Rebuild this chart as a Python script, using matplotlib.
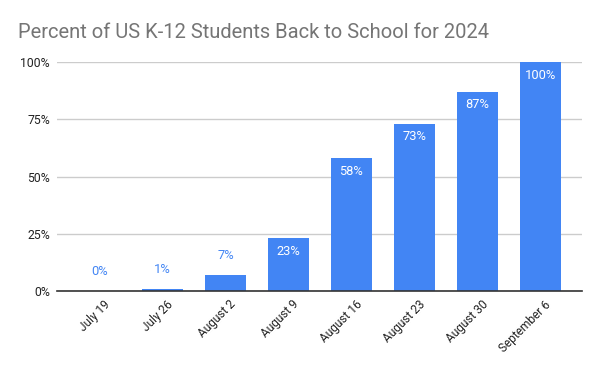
import matplotlib
matplotlib.use("Agg")
import matplotlib.pyplot as plt
import matplotlib.transforms as mtrans
from matplotlib.ticker import FuncFormatter

categories = ["July 19", "July 26", "August 2", "August 9", "August 16",
              "August 23", "August 30", "September 6"]
values = [0, 1, 7, 23, 58, 73, 87, 100]
labels = ["0%", "1%", "7%", "23%", "58%", "73%", "87%", "100%"]
yticks = [0, 25, 50, 75, 100]

plt.rcParams['font.family'] = ['Roboto', 'DejaVu Sans']

fig = plt.figure(figsize=(6, 3.71), dpi=100)
ax = fig.add_axes([57/600, 1-291/371, (582-57)/600, (291-62)/371])

blue = "#4285F4"
x = list(range(len(categories)))
ax.bar(x, values, width=0.65, color=blue, zorder=3)

for xi, v, lab in zip(x, values, labels):
    if v > 15:
        ax.annotate(lab, (xi, v), xytext=(0, -9.4), textcoords="offset points",
                    ha="center", va="center", color="white", fontsize=9.3, zorder=4)
    else:
        ax.annotate(lab, (xi, v), xytext=(0, 13.7), textcoords="offset points",
                    ha="center", va="center", color=blue, fontsize=9.3, zorder=4)

ax.set_xlim(-0.675, 7.66)
ax.set_ylim(0, 100)
ax.set_yticks(yticks)
ax.yaxis.set_major_formatter(FuncFormatter(lambda v, p: f"{int(v)}%"))
ax.grid(axis="y", color="#cccccc", linewidth=1, zorder=0)
ax.set_axisbelow(True)
for s in ["top", "right", "left"]:
    ax.spines[s].set_visible(False)
ax.spines["bottom"].set_color("#333333")
ax.spines["bottom"].set_linewidth(1.2)
ax.spines["bottom"].set_zorder(5)
ax.tick_params(axis="y", length=0, pad=5, labelsize=8.8, labelcolor="#222222")
ax.tick_params(axis="x", length=0, pad=5, labelsize=8.6, labelcolor="#222222")
ax.set_xticks(x)
ax.set_xticklabels(categories, rotation=45, ha="right", va="top",
                   rotation_mode="anchor")
offset = mtrans.ScaledTranslation(4/100, 0, fig.dpi_scale_trans)
for t in ax.get_xticklabels():
    t.set_transform(t.get_transform() + offset)

fig.text(18/600, 1-32/371, "Percent of US K-12 Students Back to School for 2024",
         fontsize=14.5, color="#757575", ha="left", va="center")

fig.savefig("out.png", dpi=100, facecolor="white")
